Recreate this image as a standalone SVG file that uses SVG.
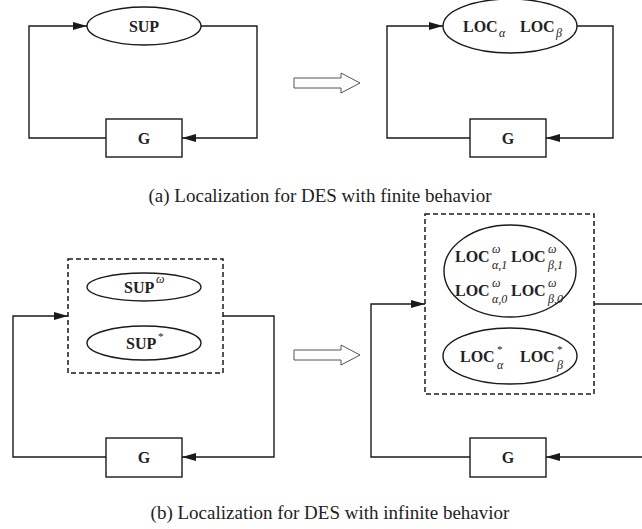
<svg xmlns="http://www.w3.org/2000/svg" width="642" height="529" viewBox="0 0 642 529">
<style>
.ln{fill:none;stroke:#1a1a1a;stroke-width:1.4}
.nd{fill:#fff;stroke:#1a1a1a;stroke-width:1.4}
.dash{fill:none;stroke:#1a1a1a;stroke-width:1.5;stroke-dasharray:5 3}
.hol{fill:#fff;stroke:#555;stroke-width:1}
.b{font-family:"Liberation Serif",serif;font-weight:bold;font-size:16px;fill:#222}
.s{font-family:"Liberation Serif",serif;font-style:italic;font-size:12px;fill:#222}
.n{font-family:"Liberation Serif",serif;font-size:11px;fill:#222}
.cap{font-family:"Liberation Serif",serif;font-size:19px;fill:#222}
</style>
<defs>
<marker id="ah" viewBox="0 0 14 8" refX="14" refY="4" markerWidth="14" markerHeight="8" markerUnits="userSpaceOnUse" orient="auto">
<path d="M0,0 L14,4 L0,8 Z" fill="#1a1a1a"/>
</marker>
</defs>

<g id="connectors">
<polyline class="ln" points="106,138 29,138 29,26 87,26" marker-end="url(#ah)"/>
<polyline class="ln" points="201,26 257,26 257,138 182,138" marker-end="url(#ah)"/>
<polyline class="ln" points="470,138 387,138 387,26 443,26" marker-end="url(#ah)"/>
<polyline class="ln" points="577,26 613,26 613,138 546,138" marker-end="url(#ah)"/>
<polyline class="ln" points="106,457 13,457 13,316 68,316" marker-end="url(#ah)"/>
<polyline class="ln" points="223,316 274,316 274,457 182,457" marker-end="url(#ah)"/>
<polyline class="ln" points="470,457 371,457 371,304 425,304" marker-end="url(#ah)"/>
<polyline class="ln" points="594,304 642,304"/>
<polyline class="ln" points="642,457 546,457" marker-end="url(#ah)"/>
</g>

<g id="arrow-a">
<path class="hol" d="M294,78 L341,78 L341,73 L360,83 L341,93 L341,88 L294,88 Z"/>
</g>
<g id="arrow-b">
<path class="hol" d="M294,350 L341,350 L341,345 L360,355 L341,365 L341,360 L294,360 Z"/>
</g>

<g id="sup-a">
<ellipse class="nd" cx="144" cy="26" rx="57" ry="19"/>
<text class="b" x="144" y="32" text-anchor="middle">SUP</text>
</g>
<g id="g-a1">
<rect class="nd" x="106" y="119" width="76" height="38"/>
<text class="b" x="144" y="144" text-anchor="middle">G</text>
</g>

<g id="loc-a">
<ellipse class="nd" cx="510" cy="26" rx="67" ry="27"/>
<text class="b" x="463" y="32">LOC</text><text class="s" x="499" y="37">α</text>
<text class="b" x="520" y="32">LOC</text><text class="s" x="556" y="37">β</text>
</g>
<g id="g-a2">
<rect class="nd" x="470" y="119" width="76" height="38"/>
<text class="b" x="508" y="144" text-anchor="middle">G</text>
</g>

<g id="sup-b">
<rect class="dash" x="68" y="259" width="155" height="114"/>
<ellipse class="nd" cx="144" cy="287" rx="57" ry="14"/>
<text class="b" x="124" y="293">SUP</text><text class="s" x="156" y="283">ω</text>
<ellipse class="nd" cx="144" cy="343" rx="57" ry="17"/>
<text class="b" x="126" y="349">SUP</text><text class="n" x="158" y="340">*</text>
</g>
<g id="g-b1">
<rect class="nd" x="106" y="438" width="76" height="39"/>
<text class="b" x="144" y="463" text-anchor="middle">G</text>
</g>

<g id="loc-b">
<rect class="dash" x="425" y="214" width="169" height="180"/>
<ellipse class="nd" cx="510" cy="271" rx="66" ry="46"/>
<text class="b" x="455" y="262">LOC</text><text class="s" x="492" y="253">ω</text><text class="s" x="492" y="269">α,1</text>
<text class="b" x="511" y="262">LOC</text><text class="s" x="548" y="253">ω</text><text class="s" x="548" y="269">β,1</text>
<text class="b" x="455" y="296">LOC</text><text class="s" x="492" y="287">ω</text><text class="s" x="492" y="303">α,0</text>
<text class="b" x="511" y="296">LOC</text><text class="s" x="548" y="287">ω</text><text class="s" x="548" y="303">β,0</text>
<ellipse class="nd" cx="510" cy="356" rx="67" ry="28"/>
<text class="b" x="460" y="362">LOC</text><text class="n" x="497" y="353">*</text><text class="s" x="497" y="369">α</text>
<text class="b" x="520" y="362">LOC</text><text class="n" x="557" y="353">*</text><text class="s" x="557" y="369">β</text>
</g>
<g id="g-b2">
<rect class="nd" x="470" y="438" width="76" height="39"/>
<text class="b" x="508" y="463" text-anchor="middle">G</text>
</g>

<text class="cap" x="320" y="202" text-anchor="middle">(a) Localization for DES with finite behavior</text>
<text class="cap" x="330" y="519" text-anchor="middle">(b) Localization for DES with infinite behavior</text>
</svg>
